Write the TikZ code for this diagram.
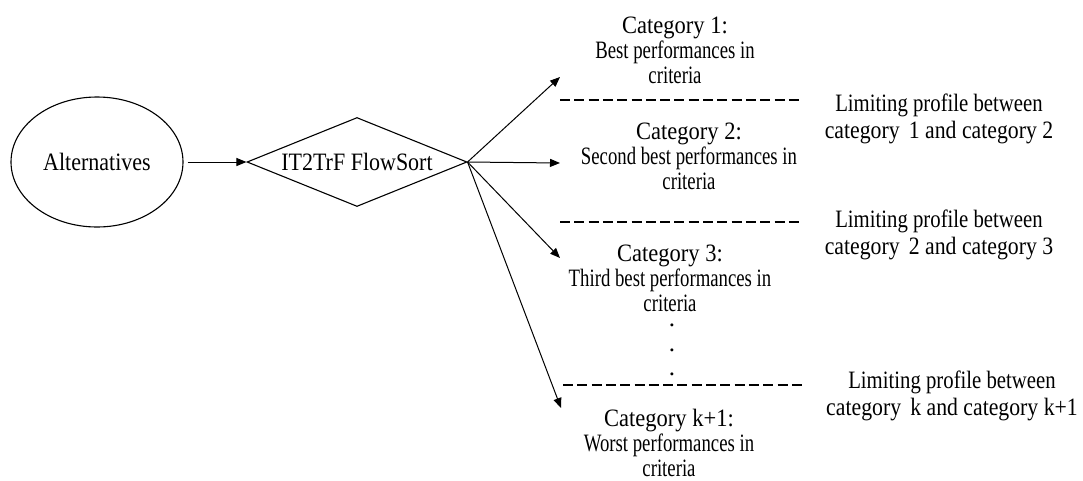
\documentclass[tikz,border=0pt]{standalone}
\usepackage{fontspec}
\setmainfont{Liberation Serif}
\newfontfamily\fA[FakeStretch=0.88]{Liberation Serif}
\newfontfamily\fT[FakeStretch=0.9]{Liberation Serif}
\newfontfamily\fD[FakeStretch=0.75]{Liberation Serif}
\newfontfamily\fL[FakeStretch=0.83]{Liberation Serif}
\newfontfamily\fLw[FakeStretch=0.87]{Liberation Serif}
\usetikzlibrary{shapes.geometric,arrows.meta}
\begin{document}
\begin{tikzpicture}[x=1pt,y=-1pt,
  every node/.style={inner sep=0pt},
  txt/.style={align=center,font=\fontsize{25}{25}\selectfont},
  limtxt/.style={align=center,font=\fL\fontsize{25}{27}\selectfont},
  shapeline/.style={draw,line width=1.1pt},
  arr/.style={line width=1pt,-{Triangle[length=10pt,width=8pt]}},
  lim/.style={line width=2.3pt,dash pattern=on 10pt off 4.3pt},
]
\useasboundingbox (0,0) rectangle (1083,480);

\node[ellipse,shapeline,minimum width=172pt,minimum height=130pt,
      font=\fA\fontsize{25}{25}\selectfont] (alt) at (97,162) {Alternatives};
\node[diamond,shapeline,aspect=3,minimum width=220pt,minimum height=89pt,
      font=\fA\fontsize{25}{25}\selectfont] (fs) at (357,162) {IT2TrF FlowSort};

\draw[arr,shorten <=4pt] (alt.east) -- (fs.west);

\coordinate (e1) at (560,77);
\coordinate (e2) at (560,163);
\coordinate (e3) at (560,258);
\coordinate (e4) at (561,408);
\draw[arr] (fs.east) -- (e1);
\draw[arr] (fs.east) -- (e2);
\draw[arr] (fs.east) -- (e3);
\draw[arr] (fs.east) -- (e4);

\coordinate (d1a) at (560,100); \coordinate (d1b) at (802,100);
\coordinate (d2a) at (560,222); \coordinate (d2b) at (802,222);
\coordinate (d3a) at (563,385); \coordinate (d3b) at (805,385);
\draw[lim] (d1a) -- (d1b);
\draw[lim] (d2a) -- (d2b);
\draw[lim] (d3a) -- (d3b);

\node[txt] (c1) at (675,50) {{\fT Category 1:}\\{\fD Best performances in}\\{\fD criteria}};
\node[txt] (c2) at (689,156) {{\fT Category 2:}\\{\fD Second best performances in}\\{\fD criteria}};
\node[txt] (c3) at (670,278) {{\fT Category 3:}\\{\fD Third best performances in}\\{\fD criteria}};
\node[txt,font=\fontsize{25}{24.5}\selectfont] (dots) at (672,350) {.\\.\\.};
\node[txt] (c4) at (669,443) {{\fT Category k+1:}\\{\fD Worst performances in}\\{\fD criteria}};

\node[limtxt] (l1) at (939,119) {Limiting profile between\\{\fLw category\hspace{0.15em} 1 and category 2}};
\node[limtxt] (l2) at (939,235) {Limiting profile between\\{\fLw category\hspace{0.15em} 2 and category 3}};
\node[limtxt] (l3) at (952,396) {Limiting profile between\\{\fLw category\hspace{0.15em} k and category k+1}};
\end{tikzpicture}
\end{document}
